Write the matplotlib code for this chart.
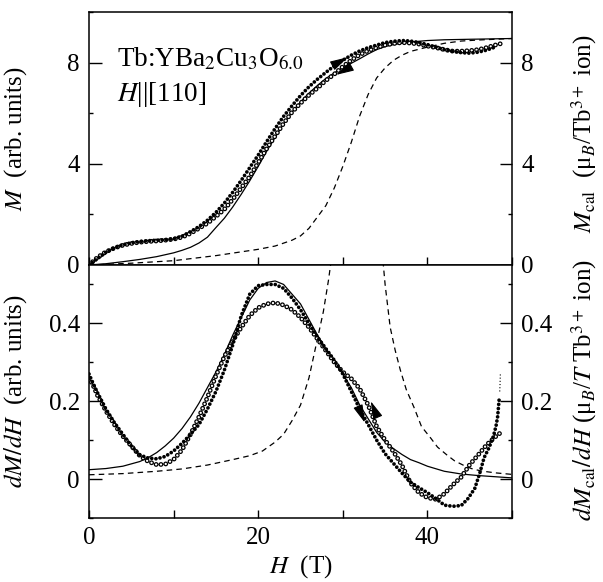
import numpy as np
import matplotlib
matplotlib.use("Agg")
import matplotlib.pyplot as plt
from matplotlib.ticker import MultipleLocator

plt.rcParams['font.family'] = 'serif'
plt.rcParams['font.serif'] = ['Liberation Serif', 'DejaVu Serif']
plt.rcParams['mathtext.fontset'] = 'stix'
plt.rcParams['lines.scale_dashes'] = False

# ---- top panel: magnetization ----
# measured, field up (filled circles)
H_up = [0, 1, 2, 3, 4, 5, 6, 7, 8, 9, 10, 11, 12, 13, 14, 15, 16, 17, 18, 19, 20,
        21, 22, 23, 24, 25, 26, 27, 28, 29, 30, 31, 32, 33, 34, 35, 36, 37, 38, 39,
        40, 41, 42, 43, 44, 45, 46, 47, 48]
M_up = [0, 0.25, 0.5, 0.68, 0.8, 0.88, 0.93, 0.96, 0.98, 1.0, 1.04, 1.14, 1.32, 1.52,
        1.77, 2.08, 2.45, 2.88, 3.35, 3.85, 4.35, 4.88, 5.4, 5.88, 6.3, 6.7, 7.05, 7.35,
        7.62, 7.88, 8.1, 8.3, 8.47, 8.6, 8.7, 8.8, 8.85, 8.88, 8.86, 8.8, 8.72, 8.62,
        8.52, 8.45, 8.4, 8.38, 8.42, 8.5, 8.62]
# measured, field down (open circles)
H_dn = [0, 1, 2, 3, 4, 5, 6, 7, 8, 9, 10, 11, 12, 13, 14, 15, 16, 17, 18, 19, 20,
        21, 22, 23, 24, 25, 26, 27, 28, 29, 30, 31, 32, 33, 34, 35, 36, 37, 38, 39,
        40, 41, 42, 43, 44, 45, 46, 47, 48, 48.6]
M_dn = [0, 0.3, 0.52, 0.67, 0.78, 0.85, 0.9, 0.93, 0.95, 0.98, 1.02, 1.1, 1.25, 1.45,
        1.65, 1.92, 2.2, 2.6, 3.05, 3.5, 4.05, 4.6, 5.1, 5.6, 6.05, 6.4, 6.72, 7.0,
        7.3, 7.55, 7.85, 8.1, 8.32, 8.48, 8.6, 8.7, 8.76, 8.8, 8.78, 8.74, 8.66, 8.6,
        8.52, 8.46, 8.46, 8.48, 8.52, 8.6, 8.7, 8.75]
# calculated, solid
H_cal = [0, 2, 4, 6, 8, 10, 11, 12, 13, 14, 15, 16, 17, 18, 19, 20, 21, 22, 23, 24,
         25, 26, 27, 28, 29, 30, 31, 32, 33, 34, 35, 36, 38, 40, 42, 45, 50]
M_cal = [0, 0.05, 0.13, 0.22, 0.33, 0.48, 0.58, 0.7, 0.87, 1.1, 1.48, 1.85, 2.3, 2.8,
         3.33, 3.9, 4.5, 5.05, 5.58, 6.05, 6.45, 6.8, 7.1, 7.38, 7.6, 7.8, 7.98, 8.16,
         8.35, 8.52, 8.64, 8.72, 8.82, 8.88, 8.91, 8.93, 8.96]
# calculated, dashed
H_cal2 = [0, 5, 10, 15, 20, 22, 24, 25, 26, 27, 28, 29, 30, 31, 32, 33, 34, 35, 36,
          37, 38, 40, 42, 44, 46, 50]
M_cal2 = [0, 0.07, 0.17, 0.37, 0.62, 0.75, 0.98, 1.15, 1.45, 1.9, 2.35, 3.05, 3.9,
          4.85, 5.9, 6.75, 7.4, 7.8, 8.1, 8.3, 8.45, 8.62, 8.77, 8.86, 8.9, 8.96]

# ---- bottom panel: dM/dH ----
Hd_up = [0, 0.5, 1, 2, 3, 4, 5, 6, 7, 8, 9, 10, 11, 12, 13, 14, 15, 16, 17, 18, 19,
         20, 21, 22, 23, 24, 25, 26, 27, 28, 29, 30, 31, 32, 33, 34, 35, 36, 37, 38,
         39, 40, 41, 42, 43, 44, 44.8, 45.6, 46.2, 46.7, 47.3, 47.8, 48.1, 48.3, 48.5]
dM_up = [0.27, 0.245, 0.222, 0.18, 0.145, 0.115, 0.085, 0.062, 0.054, 0.052, 0.058,
         0.072, 0.092, 0.115, 0.14, 0.18, 0.225, 0.28, 0.345, 0.42, 0.475, 0.497, 0.5,
         0.5, 0.49, 0.465, 0.435, 0.4, 0.365, 0.335, 0.305, 0.27, 0.225, 0.18, 0.14,
         0.1, 0.065, 0.04, 0.015, -0.008, -0.022, -0.035, -0.05, -0.067, -0.07, -0.068,
         -0.05, -0.024, 0.016, 0.055, 0.081, 0.11, 0.135, 0.16, 0.21]
Hd_tail = [48.55, 48.58, 48.6, 48.62]
dM_tail = [0.225, 0.24, 0.255, 0.27]
Hd_dn = [0, 0.5, 1, 2, 3, 4, 5, 6, 7, 8, 9, 10, 11, 12, 13, 14, 15, 16, 17, 18, 19,
         20, 21, 22, 23, 24, 25, 26, 27, 28, 29, 30, 31, 32, 33, 34, 35, 36, 37, 38,
         39, 40, 41, 42, 43, 44, 45, 46, 47, 48, 48.7]
dM_dn = [0.26, 0.24, 0.215, 0.175, 0.14, 0.11, 0.085, 0.06, 0.045, 0.037, 0.038,
         0.05, 0.075, 0.115, 0.16, 0.21, 0.265, 0.315, 0.355, 0.39, 0.42, 0.44, 0.45,
         0.453, 0.447, 0.435, 0.415, 0.39, 0.36, 0.33, 0.3, 0.275, 0.258, 0.232, 0.19,
         0.135, 0.1, 0.07, 0.035, -0.01, -0.035, -0.048, -0.052, -0.038, -0.015, 0.005,
         0.037, 0.062, 0.088, 0.108, 0.12]
Hd_cal = [0, 2, 4, 6, 7, 8, 9, 10, 11, 12, 13, 14, 15, 16, 17, 18, 19, 20, 21, 22, 23,
          24, 25, 26, 27, 28, 29, 30, 31, 32, 33, 34, 35, 36, 37, 38, 39, 40, 42, 44,
          46, 48, 50]
dM_cal = [0.024, 0.027, 0.033, 0.045, 0.055, 0.068, 0.085, 0.105, 0.13, 0.16, 0.195,
          0.235, 0.275, 0.32, 0.37, 0.415, 0.46, 0.49, 0.505, 0.509, 0.5, 0.475, 0.45,
          0.41, 0.37, 0.335, 0.3, 0.27, 0.235, 0.19, 0.155, 0.12, 0.095, 0.078, 0.063,
          0.05, 0.042, 0.033, 0.02, 0.013, 0.009, 0.006, 0.003]
Hd_cal2 = [0, 4, 8, 11, 14, 17, 19, 20.5, 22, 23, 24, 25, 26, 27, 27.7, 28.3, 29, 30,
           31, 31.8, 32.5, 33.5, 34.5, 35, 35.6, 36.2, 36.8, 37.5, 38.4, 39.3, 40.4,
           41.2, 42.3, 43.2, 44.3, 45.2, 46.3, 48, 50]
dM_cal2 = [0.011, 0.014, 0.02, 0.026, 0.036, 0.05, 0.06, 0.072, 0.095, 0.115, 0.15,
           0.19, 0.26, 0.36, 0.43, 0.51, 0.62, 0.85, 1.2, 1.4, 1.3, 0.95, 0.62, 0.5,
           0.39, 0.33, 0.28, 0.23, 0.185, 0.135, 0.105, 0.082, 0.062, 0.047, 0.035,
           0.027, 0.021, 0.016, 0.012]

# sweep direction arrows (tail -> head)
arrows_top = [((29.3, 7.98), (30.6, 8.22)), ((30.5, 7.76), (29.2, 7.52))]
arrows_bot = [((31.9, 0.182), (32.6, 0.145)), ((34.0, 0.165), (33.3, 0.2))]

FS = 18


def filled_dots(ax, x, y):
    ax.plot(x, y, color='k', lw=2.7, ls=(0, (0.01, 3.0)), dash_capstyle='round')


def open_dots(ax, x, y):
    ax.plot(x, y, color='k', lw=3.5, ls=(0, (0.01, 3.5)), dash_capstyle='round')
    ax.plot(x, y, color='w', lw=1.7, ls=(0, (0.01, 3.5)), dash_capstyle='round')


def sweep_arrow(ax, tail, head):
    ax.annotate('', xy=head, xytext=tail,
                arrowprops=dict(arrowstyle='-|>,head_length=1.1,head_width=0.3',
                                color='k', lw=0.8, shrinkA=0, shrinkB=0))


fig = plt.figure(figsize=(6.03, 5.82), dpi=100)
ax1 = fig.add_axes([0.1476, 0.5447, 0.7015, 0.4343])
ax2 = fig.add_axes([0.1476, 0.110, 0.7015, 0.4347], sharex=ax1)

# top
ax1.plot(H_cal, M_cal, color='k', lw=0.9)
ax1.plot(H_cal2, M_cal2, color='k', lw=0.9, ls=(0, (4, 3)))
open_dots(ax1, H_dn, M_dn)
filled_dots(ax1, H_up, M_up)
for t, h in arrows_top:
    sweep_arrow(ax1, t, h)
ax1.text(3.3, 7.85, r'Tb:YBa$_2$Cu$_3$O$_{6.0}$', fontsize=19.5)
ax1.text(3.3, 6.5, r'$H$||[110]', fontsize=19.5)
ax1.set_ylim(0, 10)
ax1.set_xlim(0, 50)

# bottom
ax2.plot(Hd_cal, dM_cal, color='k', lw=0.9)
ax2.plot(Hd_cal2, dM_cal2, color='k', lw=0.9, ls=(0, (4, 3)))
open_dots(ax2, Hd_dn, dM_dn)
filled_dots(ax2, Hd_up, dM_up)
ax2.plot(Hd_tail, dM_tail, color='k', lw=0.8, ls=(0, (0.8, 1.5)))
for t, h in arrows_bot:
    sweep_arrow(ax2, t, h)
ax2.set_ylim(-0.1, 0.55)

for ax, maj, mnr in [(ax1, 4, 2), (ax2, 0.2, 0.1)]:
    ax.yaxis.set_major_locator(MultipleLocator(maj))
    ax.yaxis.set_minor_locator(MultipleLocator(mnr))
    ax.xaxis.set_major_locator(MultipleLocator(20))
    ax.xaxis.set_minor_locator(MultipleLocator(10))
    ax.tick_params(which='both', direction='in', right=True, top=False,
                   labelright=True, labelsize=FS, width=1.0, pad=6.5)
    ax.tick_params(axis='y', which='major', length=9)
    ax.tick_params(axis='y', which='minor', length=3)
    ax.tick_params(axis='x', which='both', length=6)
    for s in ax.spines.values():
        s.set_linewidth(1.1)

ax1.tick_params(labelbottom=False)
ax2.set_yticks([0, 0.2, 0.4])
ax2.set_yticklabels(['0', '0.2', '0.4'])

ax1.set_ylabel(r'$M$  (arb. units)', fontsize=FS)
ax2.set_ylabel(r'$dM/dH$  (arb. units)', fontsize=FS)
ax1.yaxis.set_label_coords(-0.143, 0.5)
ax2.yaxis.set_label_coords(-0.143, 0.5)
ax2.set_xlabel(r'$H$  (T)', fontsize=FS, labelpad=3)

fig.text(0.968, 0.77, r'$M_{\rm cal}$  (μ$_B$/Tb$^{3+}$ ion)', fontsize=FS,
         rotation=90, ha='center', va='center')
fig.text(0.968, 0.33, r'$dM_{\rm cal}/dH$ (μ$_B$/$T$ Tb$^{3+}$ ion)', fontsize=FS,
         rotation=90, ha='center', va='center')

fig.savefig('out.png', dpi=100)
